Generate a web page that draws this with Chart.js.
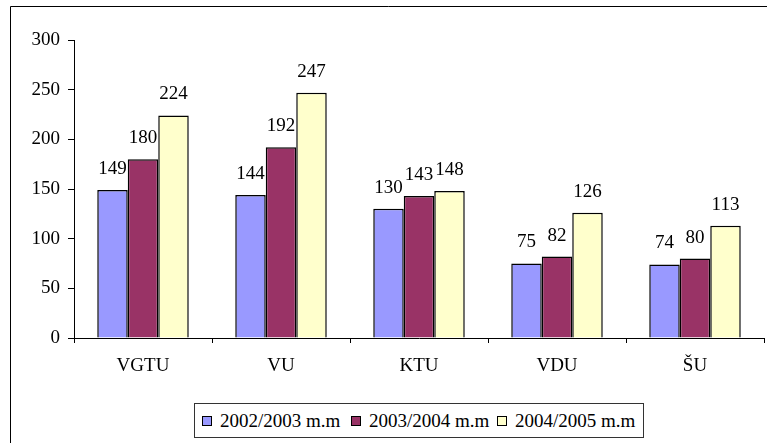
<!DOCTYPE html>
<html>
<head>
<meta charset="utf-8">
<script src="https://cdn.jsdelivr.net/npm/chart.js@4/dist/chart.umd.min.js"></script>
<style>
  html, body { margin: 0; padding: 0; background: #fff; }
  #wrap { position: relative; width: 767px; height: 443px; overflow: hidden; }
  #legend {
    position: absolute; left: 194px; top: 403px; width: 450px; height: 35px;
    box-sizing: border-box; border: 1px solid #333; background: #fff;
    font: 19px "Liberation Serif", "Times New Roman", serif; color: #000;
  }
  #legend .item { position: absolute; top: 0; height: 33px; display: flex; align-items: center; white-space: nowrap; }
  #legend .box { width: 8px; height: 8px; border: 1px solid #000; margin-right: 8px; }
</style>
</head>
<body>
<div id="wrap">
  <canvas id="myChart" width="767" height="443"></canvas>
  <div id="legend"></div>
</div>
<script>
// data
const categories = ['VGTU', 'VU', 'KTU', 'VDU', 'ŠU'];
const seriesNames = ['2002/2003 m.m', '2003/2004 m.m', '2004/2005 m.m'];
const values2002 = [149, 144, 130, 75, 74];
const values2003 = [180, 192, 143, 82, 80];
const values2004 = [224, 247, 148, 126, 113];
const yTicks = [0, 50, 100, 150, 200, 250, 300];

const colors = ['#9999FF', '#993366', '#FFFFCC'];
const font = { family: '"Liberation Serif", "Times New Roman", serif', size: 19 };

const datasets = [values2002, values2003, values2004].map((vals, i) => ({
  label: seriesNames[i],
  data: vals,
  backgroundColor: colors[i],
  borderColor: '#000',
  borderWidth: 1.5,
  borderSkipped: 'bottom',
  categoryPercentage: 0.663,
  barPercentage: 1
}));

// outer frame of the chart
const framePlugin = {
  id: 'frame',
  beforeDraw(chart) {
    const ctx = chart.ctx;
    ctx.save();
    ctx.strokeStyle = '#000';
    ctx.lineWidth = 1;
    ctx.beginPath();
    ctx.moveTo(10.5, 443);
    ctx.lineTo(10.5, 6.5);
    ctx.lineTo(767, 6.5);
    ctx.stroke();
    ctx.restore();
  }
};

// value labels above bars
const valueLabels = {
  id: 'valueLabels',
  afterDatasetsDraw(chart) {
    const ctx = chart.ctx;
    ctx.save();
    ctx.font = font.size + 'px ' + font.family;
    ctx.fillStyle = '#000';
    ctx.textAlign = 'center';
    ctx.textBaseline = 'middle';
    chart.data.datasets.forEach((ds, i) => {
      chart.getDatasetMeta(i).data.forEach((bar, j) => {
        ctx.fillText(String(ds.data[j]), bar.x, bar.y - 21);
      });
    });
    ctx.restore();
  }
};

const config = {
  type: 'bar',
  data: { labels: categories, datasets },
  options: {
    responsive: false,
    animation: false,
    devicePixelRatio: 1,
    layout: { padding: { left: 0, right: 3, top: 40, bottom: 55 } },
    plugins: { legend: { display: false }, tooltip: { enabled: false } },
    scales: {
      x: {
        grid: { drawOnChartArea: false, drawTicks: true, tickLength: 5, color: '#000', offset: true },
        border: { color: '#000', width: 1 },
        ticks: { font, color: '#000', padding: 12, maxRotation: 0 },
        afterFit(scale) { scale.height = 50; }
      },
      y: {
        min: 0,
        max: 300,
        afterBuildTicks(scale) { scale.ticks = yTicks.map(v => ({ value: v })); },
        grid: { drawOnChartArea: false, drawTicks: true, tickLength: 6, color: '#000' },
        border: { color: '#000', width: 1 },
        ticks: { font, color: '#000', padding: 8 },
        afterFit(scale) { scale.width = 74; }
      }
    }
  },
  plugins: [framePlugin, valueLabels]
};

const myChart = new Chart(document.getElementById('myChart'), config);

// legend
const legend = document.getElementById('legend');
const legendLeft = [7, 156, 302];
seriesNames.forEach((name, i) => {
  const item = document.createElement('div');
  item.className = 'item';
  item.style.left = legendLeft[i] + 'px';
  item.innerHTML = '<span class="box" style="background:' + colors[i] + '"></span><span>' + name + '</span>';
  legend.appendChild(item);
});
</script>
</body>
</html>
